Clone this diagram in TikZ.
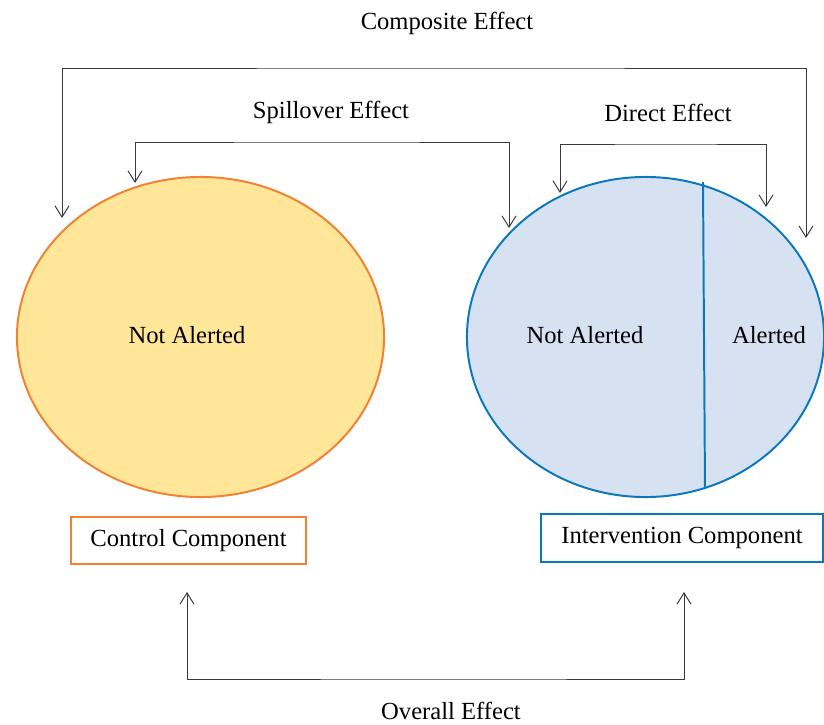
\documentclass[tikz,border=0pt]{standalone}
\usepackage{fontspec}
\setmainfont{Liberation Serif}
\usetikzlibrary{shapes.geometric,arrows.meta}
\definecolor{ctrlfill}{HTML}{FFE699}
\definecolor{ctrlline}{HTML}{F08232}
\definecolor{intvfill}{HTML}{D6E2F2}
\definecolor{intvline}{HTML}{0B78BE}
\definecolor{linkgray}{HTML}{3A3A3A}
\begin{document}
\begin{tikzpicture}[x=0.025cm, y=-0.025cm,
		font=\fontsize{17.5}{21}\selectfont,
		group/.style = {draw, ellipse, inner sep=0pt, line width=1.4pt},
		compbox/.style = {draw, rectangle, line width=2pt, inner sep=0pt},
		effect/.style = {draw=linkgray, line width=0.7pt, {Straight Barb[length=8pt,width=10pt]}-{Straight Barb[length=8pt,width=10pt]}}]
			\useasboundingbox (0,0) rectangle (824,725);
			% the two components
			\node[group, draw = ctrlline, fill = ctrlfill, minimum width = 9.175cm, minimum height = 8cm] (ctrl) at (200.5,337) {};
			\node[group, draw = intvline, fill = intvfill, minimum width = 8.925cm, minimum height = 8cm] (intv) at (645.5,337) {};
			\coordinate (divT) at (703,182);
			\coordinate (divB) at (705,489);
			\draw[intvline, line width = 1.4pt] (divT) -- (divB);
			\node (ctrlNA) at (187,335) {Not Alerted};
			\node (intvNA) at (585,335) {Not Alerted};
			\node (intvA) at (769,335) {Alerted};
			\node[compbox, draw = ctrlline, minimum width = 5.875cm, minimum height = 1.175cm] (ctrlbox) at (188.5,540.5) {Control Component};
			\node[compbox, draw = intvline, minimum width = 7.05cm, minimum height = 1.2cm] (intvbox) at (682,538) {Intervention Component};
			% effect labels
			\node (cmp) at (447,23) {Composite Effect};
			\node (spl) at (331,112) {Spillover Effect};
			\node (dir) at (668,113) {Direct Effect};
			\node (ovr) at (451,711) {Overall Effect};
			% arrow ends and bends
			\coordinate (cmpA) at (62,218);
			\coordinate (cmpB) at (806,238);
			\coordinate (cmpT) at (447,68);
			\coordinate (splA) at (135,183);
			\coordinate (splB) at (509,228);
			\coordinate (splT) at (331,142);
			\coordinate (dirA) at (560,193);
			\coordinate (dirB) at (766,207);
			\coordinate (dirT) at (668,144);
			\coordinate (ovrA) at (187,592);
			\coordinate (ovrB) at (684,592);
			\coordinate (ovrT) at (451,679);
			\draw[effect] (cmpA) |- (cmpT) -| (cmpB);
			\draw[effect] (splA) |- (splT) -| (splB);
			\draw[effect] (dirA) |- (dirT) -| (dirB);
			\draw[effect] (ovrA) |- (ovrT) -| (ovrB);
		\end{tikzpicture}
\end{document}
